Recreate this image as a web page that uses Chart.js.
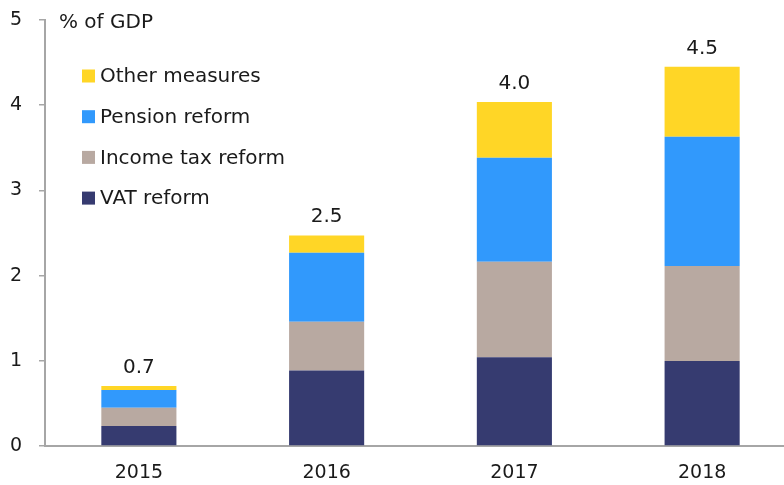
<!DOCTYPE html>
<html>
<head>
<meta charset="utf-8">
<script src="https://cdn.jsdelivr.net/npm/chart.js@4"></script>
<style>
html,body{margin:0;padding:0;overflow:hidden;background:#fff;width:784px;height:485px;}
#wrap{width:800px;height:485px;position:relative;}
</style>
</head>
<body>
<div id="wrap"><canvas id="c"></canvas></div>
<script>
const categories = ["2015", "2016", "2017", "2018"];
const vatReform = [0.235, 0.885, 1.042, 0.999];
const incomeTaxReform = [0.215, 0.572, 1.120, 1.113];
const pensionReform = [0.208, 0.811, 1.222, 1.519];
const otherMeasures = [0.047, 0.203, 0.655, 0.819];
const totalLabels = ["0.7", "2.5", "4.0", "4.5"];
const yTicks = [0, 1, 2, 3, 4, 5];
const unitLabel = "% of GDP";

const FONT = "'DejaVu Sans'";
const TEXT = "#1a1a1a";
const AXIS = "#a6a6a6";

const overlay = {
  id: "overlay",
  afterDatasetsDraw(chart) {
    const ctx = chart.ctx;
    const x = chart.scales.x, y = chart.scales.y;
    ctx.save();
    ctx.fillStyle = TEXT;
    ctx.font = "20px " + FONT;
    ctx.textAlign = "left"; ctx.textBaseline = "middle";
    ctx.fillText(unitLabel, x.left + 14, y.getPixelForValue(5) + 3);
    ctx.textAlign = "center"; ctx.textBaseline = "alphabetic";
    categories.forEach((c, i) => {
      const tot = vatReform[i] + incomeTaxReform[i] + pensionReform[i] + otherMeasures[i];
      ctx.fillText(totalLabels[i], x.getPixelForValue(i), y.getPixelForValue(tot) - 13);
    });
    const ds = chart.data.datasets.slice().reverse();
    ds.forEach((d, k) => {
      const cy = 76 + k * 40.7;
      ctx.fillStyle = d.backgroundColor;
      ctx.fillRect(82, cy - 6.5, 13, 13);
      ctx.fillStyle = TEXT;
      ctx.textAlign = "left"; ctx.textBaseline = "middle";
      ctx.fillText(d.label, 100, cy + 1);
    });
    ctx.restore();
  }
};

new Chart(document.getElementById("c"), {
  type: "bar",
  data: {
    labels: categories,
    datasets: [
      { label: "VAT reform", data: vatReform, backgroundColor: "#363B70" },
      { label: "Income tax reform", data: incomeTaxReform, backgroundColor: "#B8A9A1" },
      { label: "Pension reform", data: pensionReform, backgroundColor: "#3199FC" },
      { label: "Other measures", data: otherMeasures, backgroundColor: "#FFD626" }
    ]
  },
  options: {
    responsive: true,
    maintainAspectRatio: false,
    animation: false,
    devicePixelRatio: 1,
    layout: { padding: { top: 20, right: 4, left: 0, bottom: 0 } },
    datasets: { bar: { categoryPercentage: 0.4, barPercentage: 1.0, borderWidth: 0 } },
    plugins: { legend: { display: false }, tooltip: { enabled: false } },
    scales: {
      x: {
        stacked: true,
        grid: { display: false, drawTicks: false },
        border: { display: true, color: AXIS, width: 2 },
        ticks: { color: TEXT, font: { family: FONT, size: 19 }, padding: 16 },
        afterFit(s) { s.height = 39; s.paddingLeft = 0; s.paddingRight = 0; }
      },
      y: {
        stacked: true,
        min: 0, max: 5,
        afterBuildTicks(s) { s.ticks = yTicks.map(v => ({ value: v })); },
        grid: { display: true, drawOnChartArea: false, drawTicks: true, tickLength: 6, color: AXIS, lineWidth: 1.5 },
        border: { display: true, color: AXIS, width: 2 },
        ticks: { color: TEXT, font: { family: FONT, size: 19 }, padding: 17 },
        afterFit(s) { s.width = 45; s.paddingTop = 0; s.paddingBottom = 0; }
      }
    }
  },
  plugins: [overlay]
});
</script>
</body>
</html>
